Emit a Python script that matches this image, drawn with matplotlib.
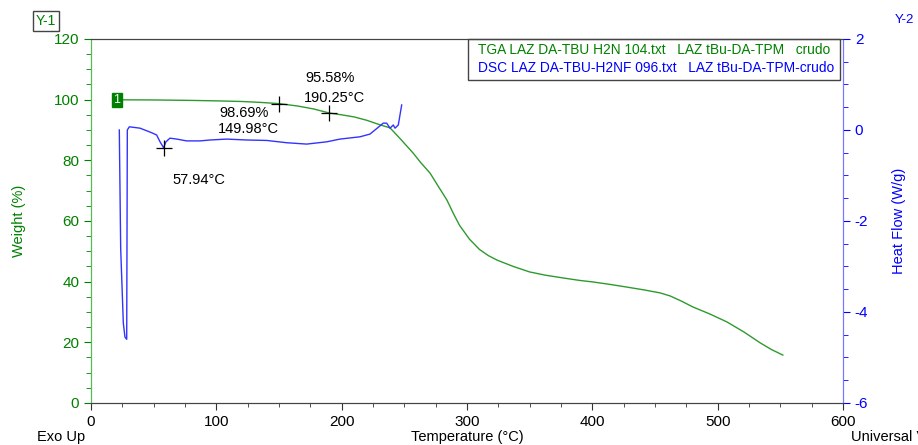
import matplotlib.pyplot as plt
from matplotlib.ticker import MultipleLocator

plt.rcParams["font.family"] = ["Liberation Sans", "DejaVu Sans"]
plt.rcParams["axes.unicode_minus"] = False

GREEN = "#008000"
BLUE = "#0000ff"

# TGA: temperature (C) vs weight (%)
tga_temp = [20.7, 50, 80, 100, 120, 135, 149.98, 165, 178, 190.25, 200, 210, 220,
            230.6, 238.6, 247, 257, 263, 270.5, 277, 284, 289, 294, 302, 310,
            317, 324, 337, 350, 363, 377, 390, 400.5, 414, 427.7, 441, 454, 462,
            471, 480, 494, 507.5, 521, 534, 543, 552]
tga_weight = [99.95, 99.9, 99.75, 99.6, 99.4, 99.1, 98.69, 97.9, 96.9, 95.58, 95.0, 94.3, 93.2,
              91.7, 90.7, 87.0, 82.4, 79.3, 75.8, 71.5, 66.9, 62.6, 58.6, 54.0, 50.6,
              48.6, 47.1, 45.0, 43.2, 42.1, 41.2, 40.4, 39.9, 39.1, 38.2, 37.3, 36.3, 35.3,
              33.6, 31.7, 29.3, 26.7, 23.4, 19.8, 17.6, 15.8]

# DSC: temperature (C) vs heat flow (W/g)
dsc_temp = [22.6, 23.7, 25.8, 27.1, 28.5, 29.0, 30.6, 39.1, 48.4, 52.4, 55.1, 57.94,
            59.8, 63, 68.4, 76.4, 87, 95, 108.3, 124.2, 140.2, 156.1, 172.1, 188.1,
            198.7, 214.6, 222.6, 233.2, 235.9, 238.6, 241.2, 242.6, 245.2, 247.9]
dsc_flow = [0.0, -2.6, -4.24, -4.55, -4.6, 0.0, 0.07, 0.04, -0.06, -0.11, -0.26, -0.39,
            -0.26, -0.18, -0.2, -0.24, -0.24, -0.22, -0.2, -0.22, -0.23, -0.28, -0.31, -0.26,
            -0.2, -0.15, -0.09, 0.15, 0.15, 0.04, 0.11, 0.04, 0.11, 0.55]

tga_marks = [(149.98, 98.69), (190.25, 95.58)]
dsc_mark = (57.94, -0.39)

fig = plt.figure(figsize=(9.18, 4.45), dpi=100)
ax = fig.add_axes([0.0991, 0.0944, 0.8192, 0.818])
ax2 = ax.twinx()

ax.plot(tga_temp, tga_weight, color="#2e9a2e", lw=1.0)
ax2.plot(dsc_temp, dsc_flow, color="#3333ff", lw=1.0)

ax.set_xlim(0, 600)
ax.set_ylim(0, 120)
ax2.set_ylim(-6, 2)

ax.xaxis.set_major_locator(MultipleLocator(100))
ax.xaxis.set_minor_locator(MultipleLocator(25))
ax.yaxis.set_major_locator(MultipleLocator(20))
ax.yaxis.set_minor_locator(MultipleLocator(5))
ax2.yaxis.set_major_locator(MultipleLocator(2))
ax2.yaxis.set_minor_locator(MultipleLocator(0.5))

ax.tick_params(axis="x", which="major", length=5, labelsize=11, colors="#333333", labelcolor="black")
ax.tick_params(axis="x", which="minor", length=3, colors="#333333")
ax.tick_params(axis="y", which="major", length=5, labelsize=11, colors=GREEN)
ax.tick_params(axis="y", which="minor", length=3.5, colors=GREEN)
ax2.tick_params(axis="y", which="major", length=5, labelsize=11, colors=BLUE)
ax2.tick_params(axis="y", which="minor", length=3.5, colors=BLUE)

for a in (ax, ax2):
    a.spines["left"].set_color("#55bb55")
    a.spines["right"].set_color("#7777ff")
    a.spines["top"].set_color("#444444")
    a.spines["bottom"].set_color("#444444")

ax.set_xlabel("Temperature (°C)", fontsize=10.5, labelpad=1)
ax.set_ylabel("Weight (%)", fontsize=10.5, color=GREEN, labelpad=20)
ax2.set_ylabel("Heat Flow (W/g)", fontsize=10.5, color=BLUE, labelpad=17)

# cross markers and annotations
for t, w in tga_marks:
    ax.plot(t, w, marker="+", ms=11, mew=0.9, color="black")
ax2.plot(dsc_mark[0], dsc_mark[1], marker="+", ms=11, mew=0.9, color="black")

fig.text(244 / 918, 1 - 113 / 445, "98.69%", fontsize=10.5, ha="center", va="center")
fig.text(248 / 918, 1 - 129 / 445, "149.98°C", fontsize=10.5, ha="center", va="center")
fig.text(330 / 918, 1 - 78 / 445, "95.58%", fontsize=10.5, ha="center", va="center")
fig.text(334 / 918, 1 - 98 / 445, "190.25°C", fontsize=10.5, ha="center", va="center")
fig.text(199 / 918, 1 - 180 / 445, "57.94°C", fontsize=10.5, ha="center", va="center")

# curve id marker
ax.text(tga_temp[0], tga_weight[0], "1", fontsize=9, color="white", ha="center", va="center",
        bbox=dict(boxstyle="square,pad=0.1", fc=GREEN, ec=GREEN))

# legend box
fig.text(478 / 918, 1 - 50 / 445, "TGA LAZ DA-TBU H2N 104.txt   LAZ tBu-DA-TPM   crudo",
         fontsize=9.9, color=GREEN, ha="left", va="center")
fig.text(478 / 918, 1 - 68 / 445, "DSC LAZ DA-TBU-H2NF 096.txt   LAZ tBu-DA-TPM-crudo",
         fontsize=9.9, color=BLUE, ha="left", va="center")
fig.add_artist(plt.Rectangle((468 / 918, 1 - 80 / 445), (840 - 468) / 918, 41 / 445,
                             transform=fig.transFigure, fill=False, ec="#444444", lw=1))

fig.text(46 / 918, 1 - 21 / 445, "Y-1", fontsize=10, color=GREEN, ha="center", va="center",
         bbox=dict(boxstyle="square,pad=0.2", fc="white", ec="#444444", lw=1))
fig.text(904 / 918, 1 - 20 / 445, "Y-2", fontsize=9.5, color=BLUE, ha="center", va="center")
fig.text(37 / 918, 1 - 437 / 445, "Exo Up", fontsize=10.5, ha="left", va="center")
fig.text(851 / 918, 1 - 437 / 445, "Universal V", fontsize=10.5, ha="left", va="center")

fig.savefig("out.png", dpi=100)
